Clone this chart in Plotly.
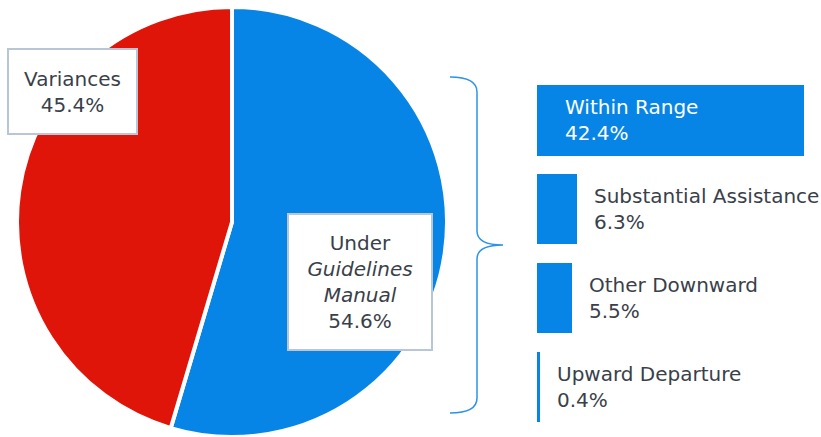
import plotly.graph_objects as go

# ---- data ----
pie_labels = ["Under Guidelines Manual", "Variances"]
pie_values = [54.6, 45.4]
pie_colors = ["#0785E6", "#E0150A"]

bar_labels = ["Within Range", "Substantial Assistance", "Other Downward", "Upward Departure"]
bar_values = [42.4, 6.3, 5.5, 0.4]

W, H = 821, 437
BLUE = "#0785E6"
TXT = "#3a3f4a"
FONT = "DejaVu Sans"
FS = 20

def px(x):
    return x / W

def py(y):
    return 1 - y / H

fig = go.Figure()

fig.add_trace(go.Pie(
    labels=pie_labels, values=pie_values, sort=False, direction="clockwise",
    rotation=0, marker=dict(colors=pie_colors, line=dict(color="white", width=4)),
    textinfo="none", hoverinfo="label+percent", showlegend=False,
    domain=dict(x=[px(17), px(447)], y=[0, py(7)]),
))

fig.add_trace(go.Bar(
    y=bar_labels, x=bar_values, orientation="h", width=0.79,
    marker=dict(color=BLUE, line=dict(width=0)), showlegend=False,
    xaxis="x", yaxis="y", hoverinfo="y+x",
))

annotations = []
# pie labels in boxes
annotations.append(dict(
    xref="paper", yref="paper", x=px(72.5), y=py(91.5), xanchor="center", yanchor="middle",
    text=f"Variances<br>{pie_values[1]}%", showarrow=False,
    font=dict(family=FONT, size=FS, color=TXT), align="center",
    bgcolor="white", bordercolor="#B9C6D6", borderwidth=2, borderpad=0,
    width=127, height=83,
))
annotations.append(dict(
    xref="paper", yref="paper", x=px(360), y=py(282), xanchor="center", yanchor="middle",
    text=f"Under<br><i>Guidelines</i><br><i>Manual</i><br>{pie_values[0]}%", showarrow=False,
    font=dict(family=FONT, size=FS, color=TXT), align="center",
    bgcolor="white", bordercolor="#B9C6D6", borderwidth=2, borderpad=0,
    width=142, height=134,
))

# bar labels
for i, (lab, v) in enumerate(zip(bar_labels, bar_values)):
    if i == 0:
        annotations.append(dict(
            xref="x", yref="y", x=0, y=lab, xanchor="left", yanchor="middle", xshift=26,
            text=f"{lab}<br>{v}%", showarrow=False, align="left",
            font=dict(family=FONT, size=FS, color="white"),
        ))
    else:
        annotations.append(dict(
            xref="x", yref="y", x=v, y=lab, xanchor="left", yanchor="middle", xshift=15,
            text=f"{lab}<br>{v}%", showarrow=False, align="left",
            font=dict(family=FONT, size=FS, color=TXT),
        ))

# brace
pts = [
    ("M", 450, 77), ("Q", 477, 77, 477, 92), ("L", 477, 231),
    ("Q", 477, 245, 503, 245), ("Q", 477, 245, 477, 259), ("L", 477, 398),
    ("Q", 477, 413, 450, 413),
]
path = ""
for p in pts:
    cmd = p[0]
    coords = p[1:]
    s = []
    for j in range(0, len(coords), 2):
        s.append(f"{px(coords[j]):.5f},{py(coords[j+1]):.5f}")
    path += cmd + " " + " ".join(s) + " "

fig.update_layout(
    width=W, height=H, margin=dict(l=0, r=0, t=0, b=0),
    paper_bgcolor="white", plot_bgcolor="white",
    xaxis=dict(domain=[px(537), 1], range=[0, (W - 537) / 6.3], visible=False, fixedrange=True),
    yaxis=dict(domain=[py(431), py(75.5)], categoryorder="array", categoryarray=bar_labels,
               autorange="reversed", visible=False, fixedrange=True),
    annotations=annotations,
    shapes=[dict(type="path", xref="paper", yref="paper", path=path.strip(),
                 line=dict(color="#2E93E8", width=1.5))],
    bargap=0,
)

fig.write_html("out.html", config={"displayModeBar": False},
               post_script="document.body.style.margin='0px';document.body.style.overflow='hidden';")
